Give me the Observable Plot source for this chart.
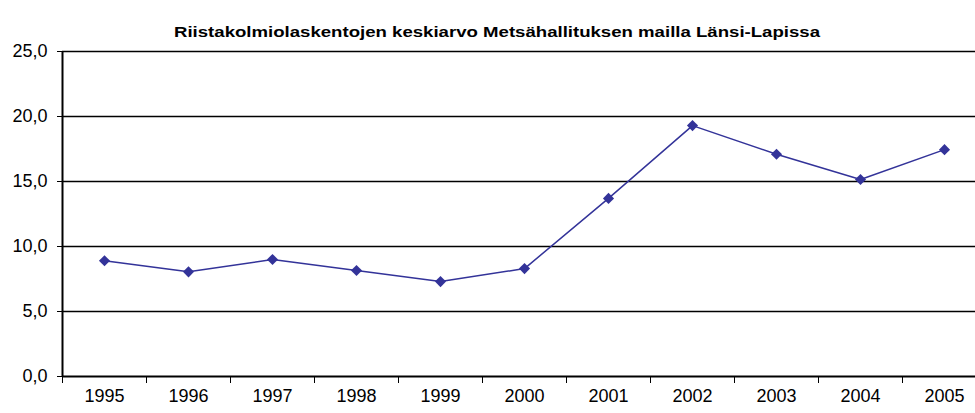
<!DOCTYPE html>
<html><head><meta charset="utf-8">
<script src="https://cdn.jsdelivr.net/npm/d3@7"></script>
<script src="https://cdn.jsdelivr.net/npm/@observablehq/plot@0.6"></script>
<style>body{margin:0;background:#fff;}</style>
</head><body><div id="chart"></div>
<script>
const title = "Riistakolmiolaskentojen keskiarvo Metsähallituksen mailla Länsi-Lapissa";
const years = ["1995","1996","1997","1998","1999","2000","2001","2002","2003","2004","2005"];
const values = [8.9, 8.05, 9.0, 8.15, 7.3, 8.3, 13.7, 19.3, 17.1, 15.15, 17.45];
const yTicks = [0, 5, 10, 15, 20, 25];

const data = years.map((year, i) => ({year, i, value: values[i]}));
const fmt = v => v.toFixed(1).replace(".", ",");
const xc = d => d.i + 0.5;

const plot = Plot.plot({
  width: 975, height: 413,
  marginTop: 51, marginBottom: 37, marginLeft: 62, marginRight: 0,
  style: {fontFamily: "'Liberation Sans', Arial, sans-serif", fontSize: "18px", color: "#000", background: "#fff"},
  x: {domain: [0, years.length], range: [62, 986]},
  y: {domain: [0, 25]},
  marks: [
    Plot.ruleY(yTicks.slice(1), {stroke: "#000", strokeWidth: 1.5}),
    Plot.ruleY([0], {stroke: "#000", strokeWidth: 2}),
    Plot.ruleX([0], {stroke: "#000", strokeWidth: 2}),
    Plot.axisY({ticks: yTicks, tickFormat: fmt, tickSize: 5, tickPadding: 10, label: null, fontSize: 18}),
    Plot.axisX({ticks: d3.range(0, years.length + 1), tickFormat: () => "", tickSize: 7, label: null}),
    Plot.axisX({ticks: d3.range(years.length).map(i => i + 0.5), tickFormat: t => years[Math.floor(t)], tickSize: 0, tickPadding: 13, label: null, fontSize: 18}),
    Plot.line(data, {x: xc, y: "value", stroke: "#333399", strokeWidth: 1.5}),
    Plot.dot(data, {x: xc, y: "value", symbol: "diamond2", fill: "#333399", r: 5}),
    Plot.text([title], {frameAnchor: "top", dy: -26, dx: -22, fontWeight: "bold", fontSize: 15.5, fill: "#000", className: "chart-title"})
  ]
});
d3.select(plot).selectAll(".chart-title text")
  .attr("textLength", 646)
  .attr("lengthAdjust", "spacingAndGlyphs");
document.getElementById("chart").appendChild(plot);
</script>
</body></html>
